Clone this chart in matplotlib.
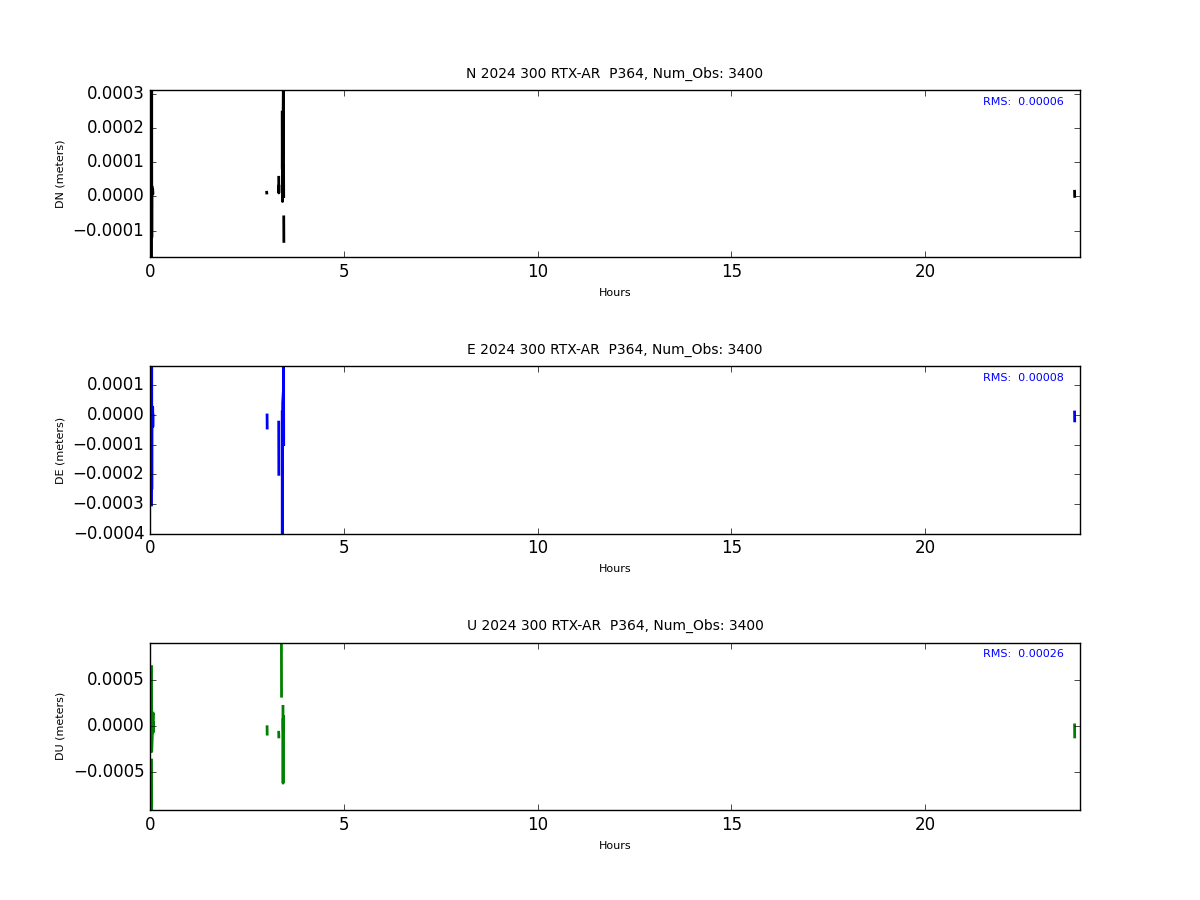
import matplotlib
matplotlib.use('Agg')
import matplotlib.pyplot as plt
import numpy as np

nan = np.nan

title_tail = "2024 300 RTX-AR  P364, Num_Obs: 3400"

# hours / values, NaN breaks the line between groups of epochs
hours_n = [0.040, 0.043, 0.046, 0.049, 0.052, 0.070, 0.075, nan,
           3.010, 3.012, nan,
           3.320, 3.323, 3.326, nan,
           3.410, 3.413, 3.416, 3.419, 3.422, 3.440, 3.443, 3.446, 3.449, nan,
           3.450, 3.453, nan,
           23.850, 23.853]
dn = [-0.000179, 0.000312, -0.00012, 0.00003, 0.000005, 0.00002, 0.00001, nan,
      0.000012, 0.00001, nan,
      0.000056, 0.00001, 0.00003, nan,
      0.000247, 0.00008, 0.00018, -0.000015, 0.00007, 0.000312, 0.0, 0.00009, 0.0, nan,
      -0.00006, -0.000132, nan,
      0.000015, 0.0]

hours_e = [0.040, 0.043, 0.046, 0.049, 0.070, 0.073, 0.076, nan,
           3.020, 3.023, nan,
           3.320, 3.323, nan,
           3.410, 3.413, 3.416, 3.419, 3.422, 3.440, 3.443, 3.446, 3.449, nan,
           23.850, 23.853]
de = [-0.000303, 0.000164, -0.00025, 0.00001, 0.000027, -0.00004, 0.0, nan,
      0.0, -0.000044, nan,
      -0.000024, -0.0002, nan,
      0.00001, -0.0004, -0.00009, -0.00039, 0.00004, 0.00008, 0.000164, 0.00007, -0.0001, nan,
      0.00001, -0.00002]

hours_u = [0.040, 0.043, 0.080, 0.083, 0.086, 0.089, nan,
           0.040, 0.043, nan,
           3.020, 3.023, nan,
           3.320, 3.323, nan,
           3.390, 3.393, nan,
           3.430, 3.433, 3.436, 3.439, 3.442, nan,
           23.850, 23.853]
du = [0.00064, -0.00028, 0.00014, -0.00007, 0.0, 0.00003, nan,
      -0.00037, -0.00091, nan,
      -0.00001, -0.00009, nan,
      -0.00007, -0.00012, nan,
      0.0009, 0.00032, nan,
      0.00021, -0.00062, 0.00008, -0.00005, 0.0001, nan,
      0.00001, -0.00012]

rms = ["0.00006", "0.00008", "0.00026"]

plt.style.use('classic')
plt.rcParams['figure.facecolor'] = 'white'
plt.rcParams['savefig.facecolor'] = 'white'

fig = plt.figure(figsize=(12, 9), dpi=100)
fig.subplots_adjust(left=0.125, right=0.9, bottom=0.1, top=0.9, hspace=0.65)

panels = [
    ("N", "DN (meters)", hours_n, dn, 'k', rms[0], (-0.000179, 0.000312),
     [-0.0001, 0.0, 0.0001, 0.0002, 0.0003]),
    ("E", "DE (meters)", hours_e, de, 'b', rms[1], (-0.0004, 0.000164),
     [-0.0004, -0.0003, -0.0002, -0.0001, 0.0, 0.0001]),
    ("U", "DU (meters)", hours_u, du, 'g', rms[2], (-0.00091, 0.0009),
     [-0.0005, 0.0, 0.0005]),
]

for i, (comp, ylab, x, y, col, r, ylim, yt) in enumerate(panels):
    ax = fig.add_subplot(3, 1, i + 1)
    ax.plot(x, y, color=col, linewidth=2)
    ax.set_xlim(0, 23.99)
    ax.set_ylim(*ylim)
    ax.set_xticks([0, 5, 10, 15, 20])
    ax.set_yticks(yt)
    ax.set_title(comp + " " + title_tail, fontsize=10, pad=9)
    ax.set_xlabel("Hours", fontsize=8)
    ax.set_ylabel(ylab, fontsize=8)
    ax.text(0.896, 0.93, "RMS:  " + r, color='b', fontsize=8,
            transform=ax.transAxes, ha='left', va='center')

fig.savefig('out.png', dpi=100)
